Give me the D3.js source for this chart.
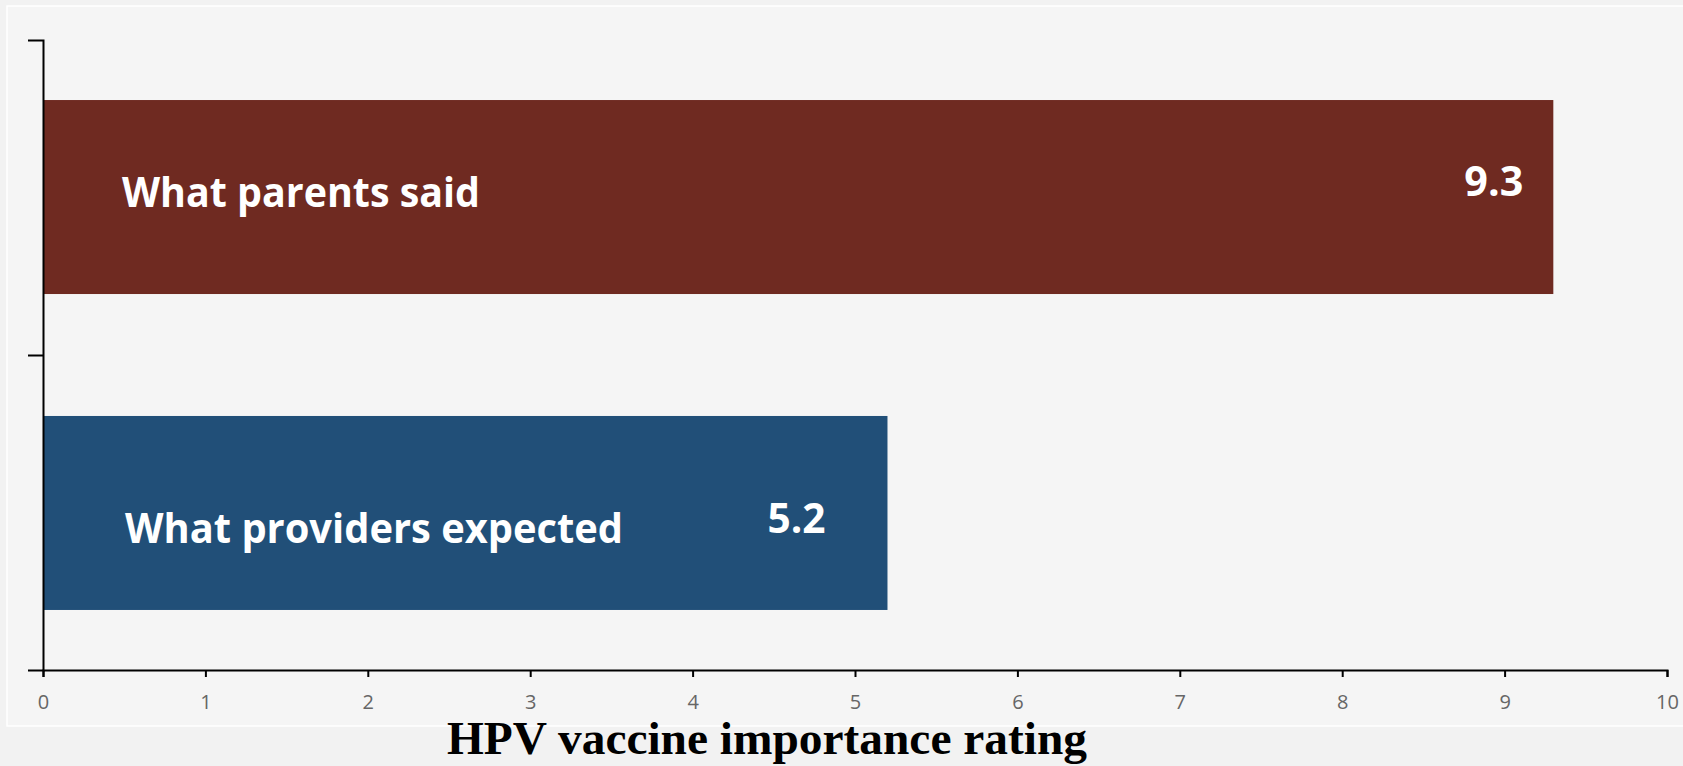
<!DOCTYPE html>
<html>
<head>
<meta charset="utf-8">
<script src="https://cdn.jsdelivr.net/npm/d3@7"></script>
<style>
  html, body { margin: 0; padding: 0; background: #f2f2f2; }
  svg { display: block; }
</style>
</head>
<body>
<div id="chart"></div>
<script>
// chart values
const categories = ["What parents said", "What providers expected"];
const values = [9.3, 5.2];
const barColors = ["#6f2a21", "#214f78"];
const xTicks = [0, 1, 2, 3, 4, 5, 6, 7, 8, 9, 10];
const axisTitle = "HPV vaccine importance rating";

const width = 1683, height = 766;
const plot = {left: 43, right: 1667, top: 40, bottom: 670};

// hand-placed text boxes, like in the original slide
const labelDy = [10, 30];
const labelWidth = [358, 498];
const valueDy = [-1, 20];
const valueInset = [30, 62];
const valueWidth = [59, 58];

const svg = d3.select("#chart")
    .append("svg")
    .attr("width", width)
    .attr("height", height);

// chart area box
svg.append("rect")
    .attr("x", 7).attr("y", 6)
    .attr("width", width).attr("height", 720)
    .attr("fill", "#f5f5f5")
    .attr("stroke", "#ffffff")
    .attr("stroke-width", 1.5);

var x = d3.scaleLinear()
    .domain([0, 10])
    .range([plot.left, plot.right]);

var y = d3.scaleBand()
    .domain(categories)
    .range([plot.top, plot.bottom])
    .paddingInner(0.386)
    .paddingOuter(0.19);

// bars
svg.selectAll("rect.bar")
    .data(categories)
    .enter()
    .append("rect")
    .attr("class", "bar")
    .attr("x", x(0))
    .attr("y", d => y(d))
    .attr("width", (d, i) => x(values[i]) - x(0))
    .attr("height", y.bandwidth())
    .attr("fill", (d, i) => barColors[i]);

// x axis
var xAxis = svg.append("g")
    .attr("transform", "translate(0," + plot.bottom + ")")
    .call(d3.axisBottom(x)
        .tickValues(xTicks)
        .tickFormat(d3.format("d"))
        .tickSize(7)
        .tickSizeOuter(7)
        .tickPadding(18));
xAxis.select(".domain").attr("stroke", "#000").attr("stroke-width", 2);
xAxis.selectAll(".tick line").attr("stroke", "#000").attr("stroke-width", 2);
xAxis.selectAll(".tick text")
    .attr("fill", "#666")
    .style("font-family", "'Open Sans', sans-serif")
    .style("font-size", "20px");

// y axis: ticks sit on band edges, no labels
var yEdges = d3.scaleLinear()
    .domain([0, categories.length])
    .range([plot.top, plot.bottom]);
var yAxis = svg.append("g")
    .attr("transform", "translate(" + plot.left + ",0)")
    .call(d3.axisLeft(yEdges)
        .tickValues(d3.range(1, categories.length))
        .tickFormat("")
        .tickSize(15)
        .tickSizeOuter(15));
yAxis.select(".domain").attr("stroke", "#000").attr("stroke-width", 2);
yAxis.selectAll(".tick line").attr("stroke", "#000").attr("stroke-width", 2);

// category labels inside the bars
svg.selectAll("text.cat")
    .data(categories)
    .enter()
    .append("text")
    .attr("class", "cat")
    .attr("x", (d, i) => x(0) + 79 + i * 3)
    .attr("y", (d, i) => y(d) + y.bandwidth() / 2 + labelDy[i])
    .attr("textLength", (d, i) => labelWidth[i])
    .attr("lengthAdjust", "spacingAndGlyphs")
    .attr("fill", "#fff")
    .style("font-family", "'Open Sans', sans-serif")
    .style("font-weight", "bold")
    .style("font-size", "41px")
    .text(d => d);

// value labels
svg.selectAll("text.val")
    .data(categories)
    .enter()
    .append("text")
    .attr("class", "val")
    .attr("x", (d, i) => x(values[i]) - valueInset[i] - valueWidth[i])
    .attr("y", (d, i) => y(d) + y.bandwidth() / 2 + valueDy[i])
    .attr("textLength", (d, i) => valueWidth[i])
    .attr("lengthAdjust", "spacingAndGlyphs")
    .attr("fill", "#fff")
    .style("font-family", "'Open Sans', sans-serif")
    .style("font-weight", "bold")
    .style("font-size", "41px")
    .text((d, i) => values[i].toFixed(1));

// axis title
svg.append("text")
    .attr("x", 447)
    .attr("y", 754)
    .attr("textLength", 640)
    .attr("lengthAdjust", "spacingAndGlyphs")
    .attr("fill", "#000")
    .style("font-family", "'Liberation Serif', 'Times New Roman', serif")
    .style("font-weight", "bold")
    .style("font-size", "46px")
    .text(axisTitle);
</script>
</body>
</html>
